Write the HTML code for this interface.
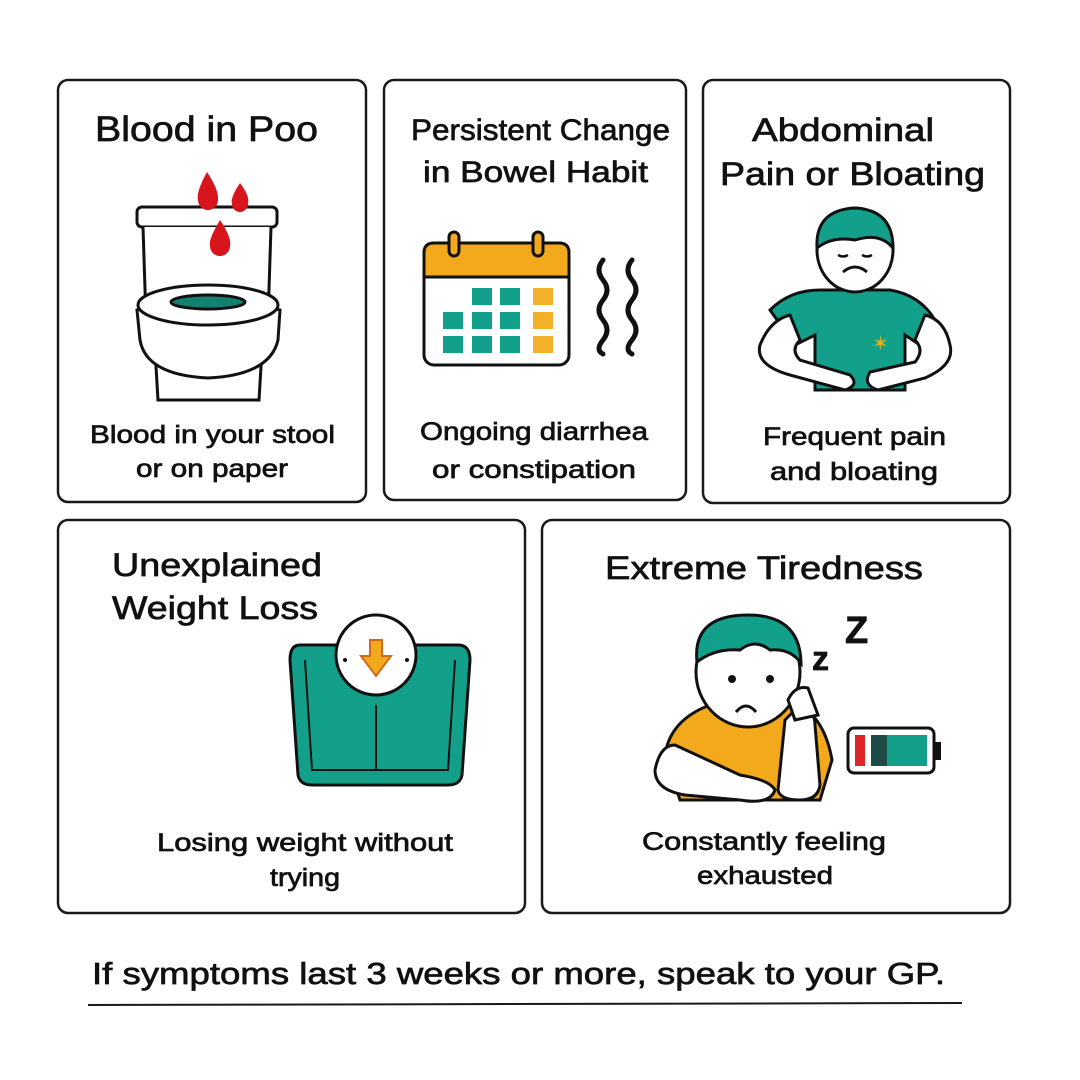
<!DOCTYPE html>
<html><head><meta charset="utf-8"><style>
body{margin:0;background:#fff}
svg{display:block}
text{font-family:"Liberation Sans","DejaVu Sans",sans-serif;fill:#111;stroke:#111;stroke-width:0.7}
</style></head><body>
<svg width="1080" height="1080" viewBox="0 0 1080 1080" xmlns="http://www.w3.org/2000/svg">
<rect width="1080" height="1080" fill="#fff"/>
<g fill="none" stroke="#1a1a1a" stroke-width="2.5">
<rect x="58" y="80" width="308" height="422" rx="10"/>
<rect x="384" y="80" width="302" height="420" rx="10"/>
<rect x="703" y="80" width="307" height="423" rx="10"/>
<rect x="58" y="520" width="467" height="393" rx="10"/>
<rect x="542" y="520" width="468" height="393" rx="10"/>
</g>
<g lengthAdjust="spacingAndGlyphs">
<text x="95" y="141" font-size="35" textLength="223" lengthAdjust="spacingAndGlyphs">Blood in Poo</text>
<text x="411" y="140" font-size="30" textLength="259" lengthAdjust="spacingAndGlyphs">Persistent Change</text>
<text x="423" y="182" font-size="30" textLength="225" lengthAdjust="spacingAndGlyphs">in Bowel Habit</text>
<text x="752" y="141" font-size="32" textLength="182" lengthAdjust="spacingAndGlyphs">Abdominal</text>
<text x="720" y="185" font-size="32" textLength="265" lengthAdjust="spacingAndGlyphs">Pain or Bloating</text>
<text x="112" y="576" font-size="32" textLength="210" lengthAdjust="spacingAndGlyphs">Unexplained</text>
<text x="112" y="619" font-size="32" textLength="206" lengthAdjust="spacingAndGlyphs">Weight Loss</text>
<text x="605" y="579" font-size="32" textLength="318" lengthAdjust="spacingAndGlyphs">Extreme Tiredness</text>
</g>
<g font-size="25">
<text x="90" y="443" textLength="245" lengthAdjust="spacingAndGlyphs">Blood in your stool</text>
<text x="136" y="477" textLength="152" lengthAdjust="spacingAndGlyphs">or on paper</text>
<text x="420" y="440" textLength="228" lengthAdjust="spacingAndGlyphs">Ongoing diarrhea</text>
<text x="432" y="478" textLength="204" lengthAdjust="spacingAndGlyphs">or constipation</text>
<text x="763" y="445" textLength="183" lengthAdjust="spacingAndGlyphs">Frequent pain</text>
<text x="770" y="480" textLength="168" lengthAdjust="spacingAndGlyphs">and bloating</text>
<text x="157" y="851" textLength="296" lengthAdjust="spacingAndGlyphs">Losing weight without</text>
<text x="270" y="886" textLength="70" lengthAdjust="spacingAndGlyphs">trying</text>
<text x="642" y="850" textLength="244" lengthAdjust="spacingAndGlyphs">Constantly feeling</text>
<text x="697" y="884" textLength="136" lengthAdjust="spacingAndGlyphs">exhausted</text>
</g>
<text x="92" y="984" font-size="31" textLength="853" lengthAdjust="spacingAndGlyphs">If symptoms last 3 weeks or more, speak to your GP.</text>
<line x1="88" y1="1005" x2="962" y2="1003" stroke="#1a1a1a" stroke-width="2"/>

<!-- toilet -->
<g stroke="#111" stroke-width="3" fill="#fff">
<rect x="137" y="207" width="140" height="20" rx="5"/>
<path d="M143 227 L146 320 L268 320 L271 227"/>
<path d="M158 400 L155 350 L262 350 L259 400 Z"/>
<path d="M137 310 Q208 290 280 310 L278 340 Q270 375 208 378 Q146 375 140 340 Z"/>
<ellipse cx="208" cy="305" rx="70" ry="20"/>
<ellipse cx="208" cy="302" rx="37" ry="7" fill="#14806f"/>
</g>
<g fill="#d8141c">
<path d="M207 172 Q196 192 198 200 A10 10 0 0 0 218 200 Q219 190 207 172Z"/>
<path d="M240 183 Q230 198 232 204 A8 8 0 0 0 248 204 Q250 196 240 183Z"/>
<path d="M220 220 Q208 240 210 246 A10 10 0 0 0 230 246 Q232 238 220 220Z"/>
</g>

<!-- calendar -->
<g stroke="#111" stroke-width="3">
<rect x="424" y="243" width="145" height="122" rx="10" fill="#fff"/>
<path d="M424 277 V253 Q424 243 434 243 H559 Q569 243 569 253 V277 Z" fill="#f3a91c"/>
<rect x="449" y="232" width="10" height="24" rx="5" fill="#f3a91c"/>
<rect x="533" y="232" width="10" height="24" rx="5" fill="#f3a91c"/>
</g>
<g fill="#12a08a">
<rect x="443" y="312" width="20" height="17"/><rect x="443" y="336" width="20" height="17"/>
<rect x="472" y="288" width="20" height="17"/><rect x="472" y="312" width="20" height="17"/><rect x="472" y="336" width="20" height="17"/>
<rect x="500" y="288" width="20" height="17"/><rect x="500" y="312" width="20" height="17"/><rect x="500" y="336" width="20" height="17"/>
</g>
<g fill="#f3b02a"><rect x="533" y="288" width="20" height="17"/><rect x="533" y="312" width="20" height="17"/><rect x="533" y="336" width="20" height="17"/></g>
<g fill="none" stroke="#111" stroke-width="5" stroke-linecap="round">
<path d="M603 260 q-8 10 0 20 q8 10 0 20 q-8 10 0 20 q8 10 0 20 q-8 10 0 14"/>
<path d="M632 260 q-8 10 0 20 q8 10 0 20 q-8 10 0 20 q8 10 0 20 q-8 10 0 14"/>
</g>

<!-- abdominal person -->
<g stroke="#111" stroke-width="3">
<path d="M770 310 Q790 290 820 290 L890 290 Q920 295 935 320 L920 345 L905 335 L905 390 L815 390 L815 335 L795 345 Z" fill="#12a08a"/>
<path d="M760 345 Q770 320 790 315 L800 340 Q790 350 800 360 L850 375 Q860 385 845 390 L790 375 Q755 365 760 345Z" fill="#fff"/>
<path d="M950 345 Q945 320 925 315 L915 340 Q925 350 915 362 L870 372 Q862 385 878 390 L925 378 Q955 365 950 345Z" fill="#fff"/>
<ellipse cx="855" cy="250" rx="38" ry="42" fill="#fff"/>
<path d="M817 248 Q815 210 855 208 Q893 210 893 248 Q880 232 855 240 Q832 236 817 248Z" fill="#12a08a"/>
<path d="M843 272 Q855 262 867 272" fill="none"/>
</g>
<path d="M838 255 q5 3 10 0 M862 255 q5 3 10 0" stroke="#111" stroke-width="2.5" fill="none"/>
<text x="872" y="350" font-size="20" style="fill:#e2b21c;stroke:none">✶</text>

<!-- scale -->
<g stroke="#111" stroke-width="3">
<path d="M300 645 Q290 645 290 660 L298 775 Q300 785 312 785 L448 785 Q460 785 462 775 L470 660 Q470 645 458 645 Z" fill="#12a08a"/>
<path d="M305 660 L312 770 L448 770 L455 660" fill="none" stroke-width="2"/>
<circle cx="376" cy="655" r="40" fill="#fff"/>
<line x1="376" y1="705" x2="376" y2="770" stroke-width="2"/>
</g>
<path d="M370 640 h12 v16 h9 l-15 20 l-15 -20 h9 z" fill="#f3a91c" stroke="#d2691e" stroke-width="2"/>
<circle cx="345" cy="660" r="2" fill="#111"/><circle cx="407" cy="660" r="2" fill="#111"/>

<!-- tired person -->
<g stroke="#111" stroke-width="3">
<path d="M665 755 Q670 720 710 705 L800 705 Q825 720 832 760 L820 800 L680 800 Z" fill="#f3a91c"/>
<path d="M655 770 Q660 745 675 745 L740 775 Q770 780 775 790 Q770 805 740 800 L685 795 Q655 790 655 770Z" fill="#fff"/>
<path d="M800 800 Q780 800 778 790 L785 720 L800 705 Q815 710 815 725 L820 785 Q818 800 800 800Z" fill="#fff"/>
<ellipse cx="748" cy="672" rx="52" ry="55" fill="#fff"/>
<path d="M697 662 Q692 615 748 615 Q800 615 801 663 Q790 648 770 650 Q755 638 740 650 Q715 648 697 662Z" fill="#12a08a"/>
<path d="M736 712 Q746 700 756 712" fill="none"/>
<path d="M788 700 Q795 685 808 688 L818 715 L795 720 Z" fill="#fff"/>
</g>
<circle cx="732" cy="679" r="4" fill="#111"/><circle cx="770" cy="679" r="4" fill="#111"/>
<text x="812" y="670" font-size="34" font-weight="bold">z</text>
<text x="845" y="643" font-size="38" font-weight="bold">Z</text>
<rect x="848" y="728" width="86" height="45" rx="6" fill="#fff" stroke="#111" stroke-width="3"/>
<rect x="934" y="742" width="7" height="18" fill="#111"/>
<rect x="855" y="735" width="10" height="31" fill="#e0242a"/>
<rect x="871" y="735" width="16" height="31" fill="#1e4a47"/>
<rect x="887" y="735" width="40" height="31" fill="#12a08a"/>
</svg>
</body></html>
